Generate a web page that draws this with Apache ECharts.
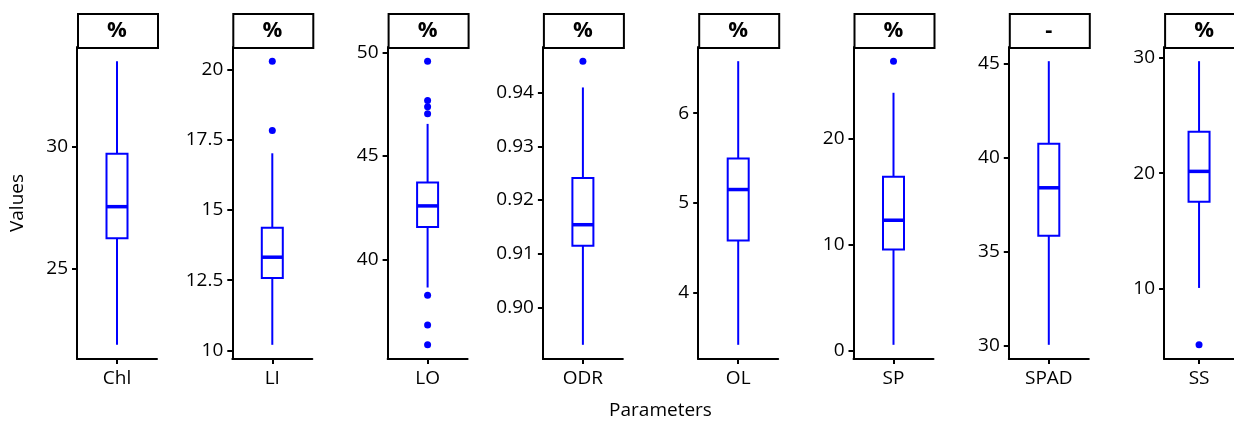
<!DOCTYPE html>
<html>
<head>
<meta charset="utf-8">
<script src="https://cdn.jsdelivr.net/npm/echarts@6/dist/echarts.min.js"></script>
<style>html,body{margin:0;padding:0;background:#fff}#c{width:1234px;height:421px}</style>
</head>
<body>
<div id="c"></div>
<script>
// ---- data ----
const categories = ['Chl', 'LI', 'LO', 'ODR', 'OL', 'SP', 'SPAD', 'SS'];
const units = ['%', '%', '%', '%', '%', '%', '-', '%'];
// [lower whisker, Q1, median, Q3, upper whisker]
const boxStats = [
  [21.9, 26.26, 27.55, 29.71, 33.5],
  [10.2, 12.58, 13.32, 14.37, 17.02],
  [38.67, 41.59, 42.6, 43.73, 46.55],
  [0.893, 0.9115, 0.9154, 0.9241, 0.941],
  [3.42, 4.583, 5.15, 5.495, 6.58],
  [0.57, 9.56, 12.32, 16.42, 24.34],
  [30.04, 35.85, 38.4, 40.75, 45.14],
  [10.05, 17.52, 20.15, 23.58, 29.7]
];
const outliers = [
  [],
  [20.3, 17.83],
  [49.57, 47.68, 47.37, 47.04, 38.3, 36.86, 35.91],
  [0.9459],
  [],
  [27.32],
  [],
  [5.12]
];
const tickValues = [
  [25, 30],
  [10, 12.5, 15, 17.5, 20],
  [40, 45, 50],
  [0.90, 0.91, 0.92, 0.93, 0.94],
  [4, 5, 6],
  [0, 10, 20],
  [30, 35, 40, 45],
  [10, 20, 30]
];
const tickLabels = [
  ['25', '30'],
  ['10', '12.5', '15', '17.5', '20'],
  ['40', '45', '50'],
  ['0.90', '0.91', '0.92', '0.93', '0.94'],
  ['4', '5', '6'],
  ['0', '10', '20'],
  ['30', '35', '40', '45'],
  ['10', '20', '30']
];
const yTitle = 'Values';
const xTitle = 'Parameters';

// ---- layout ----
const FONT = 'Open Sans';
const BLUE = '#0000FF';
const firstLeft = 77, step = 155.3, panelW = 80, plotTop = 47, plotH = 312;
const stripTop = 13, stripH = 34;

const grids = [], xAxes = [], yAxes = [], series = [], graphics = [];
categories.forEach((cat, i) => {
  const left = firstLeft + i * step;
  grids.push({ left: left, top: plotTop, width: panelW, height: plotH, containLabel: false });
  const vals = boxStats[i].concat(outliers[i]);
  const lo = Math.min.apply(null, vals), hi = Math.max.apply(null, vals);
  const pad = (hi - lo) * 0.05;
  xAxes.push({
    type: 'category', gridIndex: i, data: [cat], boundaryGap: true,
    axisLine: { show: true, onZero: false, lineStyle: { color: '#000', width: 2 } },
    axisTick: { show: true, alignWithLabel: true, length: 5, lineStyle: { color: '#000', width: 2 } },
    axisLabel: { color: '#000', fontFamily: FONT, fontSize: 19, margin: 10 },
    splitLine: { show: false }
  });
  const tv = tickValues[i], tl = tickLabels[i];
  yAxes.push({
    type: 'value', gridIndex: i, min: lo - pad, max: hi + pad, scale: true,
    name: i === 0 ? yTitle : '', nameLocation: 'middle', nameRotate: 90, nameGap: 50,
    nameTextStyle: { color: '#000', fontFamily: FONT, fontSize: 19 },
    axisLine: { show: true, onZero: false, lineStyle: { color: '#000', width: 2 } },
    axisTick: { show: true, length: 5, lineStyle: { color: '#000', width: 2 }, customValues: tv },
    axisLabel: {
      color: '#000', fontFamily: FONT, fontSize: 19, margin: 9, customValues: tv,
      formatter: function (v) {
        for (let k = 0; k < tv.length; k++) if (Math.abs(tv[k] - v) < 1e-9) return tl[k];
        return '';
      }
    },
    splitLine: { show: false }
  });
  series.push({
    type: 'custom', xAxisIndex: i, yAxisIndex: i,
    data: [[0].concat(boxStats[i])],
    renderItem: function (params, api) {
      const xc = api.coord([api.value(0), api.value(1)])[0];
      const yMin = api.coord([0, api.value(1)])[1];
      const yQ1 = api.coord([0, api.value(2)])[1];
      const yMed = api.coord([0, api.value(3)])[1];
      const yQ3 = api.coord([0, api.value(4)])[1];
      const yMax = api.coord([0, api.value(5)])[1];
      const hw = 10.5;
      const ls = { stroke: BLUE, lineWidth: 2, fill: null };
      return {
        type: 'group',
        children: [
          { type: 'line', shape: { x1: xc, y1: yMin, x2: xc, y2: yQ1 }, style: ls },
          { type: 'line', shape: { x1: xc, y1: yQ3, x2: xc, y2: yMax }, style: ls },
          { type: 'rect', shape: { x: xc - hw, y: yQ3, width: hw * 2, height: yQ1 - yQ3 }, style: { stroke: BLUE, lineWidth: 2, fill: '#fff' } },
          { type: 'line', shape: { x1: xc - hw, y1: yMed, x2: xc + hw, y2: yMed }, style: { stroke: BLUE, lineWidth: 3.5 } }
        ]
      };
    },
    silent: true, z: 2
  });
  series.push({
    type: 'scatter', xAxisIndex: i, yAxisIndex: i,
    data: outliers[i].map(v => [0, v]),
    symbol: 'circle', symbolSize: 7,
    itemStyle: { color: BLUE, opacity: 1 }, silent: true, z: 3
  });
  graphics.push({
    type: 'rect', left: left, top: stripTop,
    shape: { x: 0, y: 0, width: panelW, height: stripH },
    style: { fill: '#fff', stroke: '#000', lineWidth: 2 }
  });
  graphics.push({
    type: 'text', x: left + panelW / 2, y: stripTop + stripH / 2 + 1,
    style: { text: units[i], fill: '#000', font: 'bold 22px "' + FONT + '"', textAlign: 'center', textVerticalAlign: 'middle' }
  });
});
graphics.push({
  type: 'text', x: 660.5, y: 411,
  style: { text: xTitle, fill: '#000', font: '19px "' + FONT + '"', textAlign: 'center', textVerticalAlign: 'middle' }
});

const chart = echarts.init(document.getElementById('c'), null, { renderer: 'canvas' });
chart.setOption({
  animation: false,
  backgroundColor: '#fff',
  grid: grids, xAxis: xAxes, yAxis: yAxes, series: series,
  graphic: graphics
});
</script>
</body>
</html>
